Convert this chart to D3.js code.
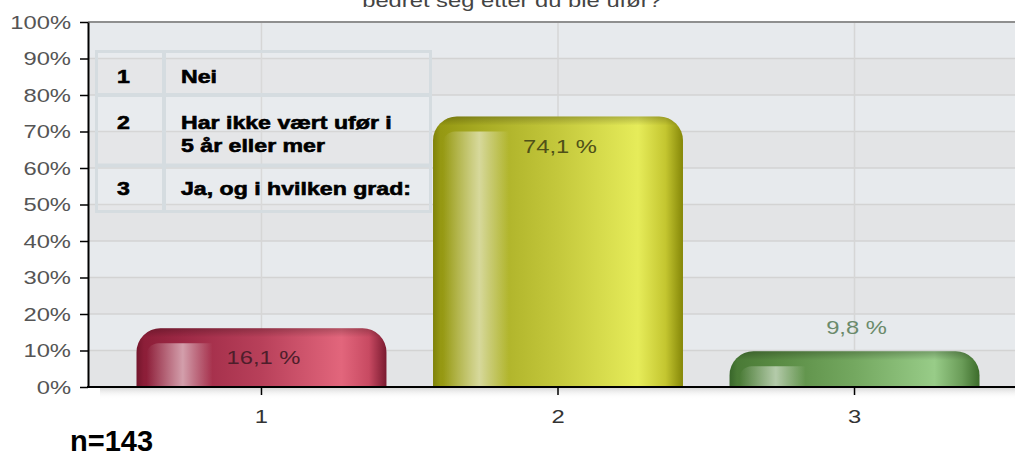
<!DOCTYPE html>
<html>
<head>
<meta charset="utf-8">
<script src="https://cdn.jsdelivr.net/npm/d3@7"></script>
<style>
  body { margin: 0; background: #fff; }
  svg { display: block; font-family: "Liberation Sans", Arial, sans-serif; }
</style>
</head>
<body>
<svg id="chart" width="1015" height="456"></svg>
<script>
// chart data
const categories = ["1", "2", "3"];
const values = [16.1, 74.1, 9.8];
const valueLabels = ["16,1 %", "74,1 %", "9,8 %"];
const yTicks = [0, 10, 20, 30, 40, 50, 60, 70, 80, 90, 100];
const legendCodes = ["1", "2", "3"];
const legendTexts = [["Nei"], ["Har ikke vært ufør i", "5 år eller mer"], ["Ja, og i hvilken grad:"]];
const titleText = "bedret seg etter du ble ufør?";
const nText = "n=143";

// styles
const barColors = [
  ["#74162c", "#8c1e38", "#9e2a46", "#b8405a", "#e2667c", "#c84a62", "#7a1a30"],
  ["#7f820a", "#959812", "#a8ac24", "#c4c83c", "#e6ec5a", "#c4c630", "#858708"],
  ["#38662a", "#4a7a36", "#5a8c44", "#74a860", "#98cc88", "#6a9c58", "#3c6c2a"]
];
const labelColors = ["#4e1e2b", "#4f5018", "#6b8a6b"];
const S = 1.25; // original text is stretched horizontally

class BarChart {
  constructor(svg_element_id) {
    this.svg = d3.select('#' + svg_element_id);
    this.width = 1015;
    this.height = 456;
    this.margin = { top: 22, left: 88, bottom: 387 };
  }

  stretch(sel) {
    sel.each(function () {
      const t = d3.select(this);
      const x = +t.attr("x") || 0;
      const y = +t.attr("y") || 0;
      t.attr("x", 0).attr("y", 0).attr("transform", `translate(${x},${y}) scale(${S},1)`);
    });
  }

  draw() {
    const svg = this.svg;
    const m = this.margin;
    const W = this.width;

    const y = d3.scaleLinear().domain([0, 100]).range([m.bottom, m.top]);
    const x = d3.scaleBand().domain(categories).range([136.5, 979.5])
      .paddingInner(0.157).paddingOuter(0);

    const defs = svg.append("defs");

    // background bands
    const bands = svg.append("g");
    for (let i = 0; i < yTicks.length - 1; i++) {
      bands.append("rect")
        .attr("x", m.left).attr("y", y(yTicks[i + 1]))
        .attr("width", W - m.left).attr("height", y(yTicks[i]) - y(yTicks[i + 1]))
        .attr("fill", i % 2 ? "#e7eaed" : "#e3e4e6");
    }

    // grid
    svg.append("g").selectAll("line").data(yTicks.slice(1, -1)).enter().append("line")
      .attr("x1", m.left).attr("x2", W)
      .attr("y1", d => y(d)).attr("y2", d => y(d))
      .attr("stroke", "#d3d3d3").attr("stroke-width", 1.5);
    svg.append("g").selectAll("line").data(categories).enter().append("line")
      .attr("x1", d => x(d) + x.bandwidth() / 2).attr("x2", d => x(d) + x.bandwidth() / 2)
      .attr("y1", m.top).attr("y2", m.bottom)
      .attr("stroke", "#d6d6d6").attr("stroke-width", 1.5);

    // top border
    svg.append("line").attr("x1", m.left).attr("x2", W).attr("y1", m.top).attr("y2", m.top)
      .attr("stroke", "#8f8f8f").attr("stroke-width", 2);

    // legend table
    const lg = svg.append("g");
    lg.append("rect").attr("x", 96.5).attr("y", 51.5).attr("width", 334).attr("height", 160)
      .attr("fill", "#ffffff").attr("fill-opacity", 0.08)
      .attr("stroke", "#d5dce0").attr("stroke-width", 3);
    lg.append("line").attr("x1", 164).attr("x2", 164).attr("y1", 51.5).attr("y2", 211.5)
      .attr("stroke", "#d5dce0").attr("stroke-width", 4);
    [95, 165.5].forEach(v => {
      lg.append("line").attr("x1", 96.5).attr("x2", 430.5).attr("y1", v).attr("y2", v)
        .attr("stroke", "#d5dce0").attr("stroke-width", 4);
    });
    const rowBase = [[83], [129], [195]];
    legendCodes.forEach((c, i) => {
      lg.append("text").attr("x", 117).attr("y", rowBase[i][0]).text(c);
      legendTexts[i].forEach((t, j) => {
        lg.append("text").attr("x", 181).attr("y", rowBase[i][0] + j * 23).text(t);
      });
    });
    lg.selectAll("text").attr("font-size", 18.5).attr("font-weight", "bold")
      .attr("fill", "#000").attr("stroke", "#000").attr("stroke-width", 0.6);
    this.stretch(lg.selectAll("text"));

    // bars
    const barPath = (x0, y0, w, h, r) => {
      r = Math.min(r, h, w / 2);
      return `M${x0},${y0 + h}V${y0 + r}A${r},${r} 0 0 1 ${x0 + r},${y0}` +
        `H${x0 + w - r}A${r},${r} 0 0 1 ${x0 + w},${y0 + r}V${y0 + h}Z`;
    };
    const offs = [0, 0.03, 0.2, 0.5, 0.82, 0.93, 1];
    barColors.forEach((cols, i) => {
      const g = defs.append("linearGradient").attr("id", "bar" + i)
        .attr("x1", 0).attr("x2", 1).attr("y1", 0).attr("y2", 0);
      cols.forEach((c, k) => g.append("stop").attr("offset", offs[k]).attr("stop-color", c));
    });
    const hl = defs.append("linearGradient").attr("id", "hl")
      .attr("x1", 0).attr("x2", 1).attr("y1", 0).attr("y2", 0);
    hl.append("stop").attr("offset", 0).attr("stop-color", "#fff").attr("stop-opacity", 0);
    hl.append("stop").attr("offset", 0.55).attr("stop-color", "#fff").attr("stop-opacity", 0.55);
    hl.append("stop").attr("offset", 1).attr("stop-color", "#fff").attr("stop-opacity", 0);

    const bars = svg.append("g");
    categories.forEach((c, i) => {
      const x0 = x(c), w = x.bandwidth(), top = y(values[i]), h = m.bottom - top;
      const d = barPath(x0, top, w, h, 24);
      const bev = defs.append("linearGradient").attr("id", "bev" + i)
        .attr("gradientUnits", "userSpaceOnUse")
        .attr("x1", 0).attr("x2", 0).attr("y1", top).attr("y2", top + 9);
      bev.append("stop").attr("offset", 0).attr("stop-color", "#000").attr("stop-opacity", 0.22);
      bev.append("stop").attr("offset", 1).attr("stop-color", "#000").attr("stop-opacity", 0);
      bars.append("path").attr("d", d).attr("fill", `url(#bar${i})`);
      bars.append("path").attr("d", d).attr("fill", `url(#bev${i})`);
      const hx = x0 + 10, htop = top + 15;
      bars.append("path")
        .attr("d", `M${hx},${m.bottom}V${htop + 12}A12,12 0 0 1 ${hx + 12},${htop}H${hx + 66}V${m.bottom}Z`)
        .attr("fill", "url(#hl)");
    });

    // value labels
    const labels = svg.append("g").selectAll("text").data(values).enter().append("text")
      .attr("x", (d, i) => x(categories[i]) + x.bandwidth() / 2 + 2)
      .attr("y", d => (m.bottom - y(d) > 45 ? y(d) + 29 : y(d) - 24) + 7)
      .attr("text-anchor", "middle").attr("font-size", 19)
      .attr("fill", (d, i) => labelColors[i])
      .text((d, i) => valueLabels[i]);
    this.stretch(labels);

    // shadow under axis
    const sh = defs.append("linearGradient").attr("id", "shadow")
      .attr("x1", 0).attr("x2", 0).attr("y1", 0).attr("y2", 1);
    sh.append("stop").attr("offset", 0).attr("stop-color", "#d0d0d0").attr("stop-opacity", 0.8);
    sh.append("stop").attr("offset", 1).attr("stop-color", "#fff").attr("stop-opacity", 0);
    svg.append("rect").attr("x", 100).attr("y", m.bottom + 1).attr("width", W - 100).attr("height", 11)
      .attr("fill", "url(#shadow)");

    // axes
    const yAxis = svg.append("g").attr("transform", `translate(${m.left},0)`)
      .call(d3.axisLeft(y).tickValues(yTicks).tickFormat(d => d + "%").tickSize(8).tickPadding(9).tickSizeOuter(0));
    yAxis.select(".domain").attr("stroke", "#000").attr("stroke-width", 2);
    yAxis.selectAll(".tick line").attr("stroke", "#000").attr("stroke-width", 1.5);
    yAxis.selectAll(".tick text").attr("font-size", 19).attr("fill", "#555")
      .attr("font-family", null);
    this.stretch(yAxis.selectAll(".tick text"));

    const xAxis = svg.append("g").attr("transform", `translate(0,${m.bottom})`)
      .call(d3.axisBottom(x).tickSize(8).tickPadding(14).tickSizeOuter(0));
    xAxis.select(".domain").remove();
    xAxis.selectAll(".tick line").attr("stroke", "#000").attr("stroke-width", 1.5);
    xAxis.selectAll(".tick text").attr("font-size", 19).attr("fill", "#333")
      .attr("font-family", null);
    this.stretch(xAxis.selectAll(".tick text"));
    svg.append("line").attr("x1", m.left - 1).attr("x2", W).attr("y1", m.bottom).attr("y2", m.bottom)
      .attr("stroke", "#000").attr("stroke-width", 2);

    // title (second line, cut off at top as in the source)
    const title = svg.append("text").attr("x", 512).attr("y", 7).attr("text-anchor", "middle")
      .attr("font-size", 19).attr("fill", "#444").text(titleText);
    this.stretch(title);

    svg.append("text").attr("x", 70).attr("y", 451)
      .attr("font-size", 29).attr("font-weight", "bold").attr("fill", "#000").text(nText);
  }
}

function whenDocumentLoaded(action) {
  if (document.readyState === "loading") {
    document.addEventListener("DOMContentLoaded", action);
  } else {
    action();
  }
}

whenDocumentLoaded(() => {
  const chart = new BarChart('chart');
  chart.draw();
});
</script>
</body>
</html>
